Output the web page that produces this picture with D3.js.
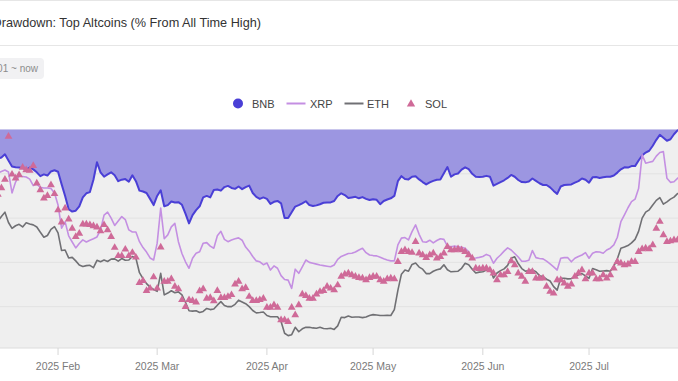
<!DOCTYPE html>
<html>
<head>
<meta charset="utf-8">
<script src="https://cdn.jsdelivr.net/npm/d3@7"></script>
<style>
  body { margin: 0; background: #fff; }
  svg { display: block; font-family: "Liberation Sans", Arial, sans-serif; }
</style>
</head>
<body>
<div id="chart"></div>
<script>
// daily values, % from all time high, starting 2025-01-14
const startDate = new Date(Date.UTC(2025, 0, 14));
const seriesNames = ["BNB", "XRP", "ETH", "SOL"];
const tickMonths = ["2025-02-01", "2025-03-01", "2025-04-01", "2025-05-01", "2025-06-01", "2025-07-01"];

const bnb = [
  -10.5, -9.8, -9.5, -8.4, -10.5, -12.5, -12.8, -12.9, -13.0, -13.7,
  -12.9, -13.5, -14.5, -15.8, -15.2, -15.6, -14.2, -13.8, -14.3, -18.5,
  -22.5, -27.0, -27.8, -27.5, -26.0, -23.0, -21.6, -21.2, -17.0, -11.1,
  -14.5, -16.0, -15.2, -14.5, -15.5, -17.5, -17.0, -16.8, -17.7, -15.5,
  -17.5, -20.7, -21.0, -21.5, -23.5, -25.6, -22.5, -20.6, -26.0, -25.6,
  -24.4, -24.7, -24.6, -25.5, -28.5, -31.8, -29.0, -27.3, -26.0, -23.0,
  -22.5, -23.0, -20.5, -20.3, -20.7, -19.5, -19.1, -19.8, -20.1, -19.3,
  -20.2, -19.5, -19.0, -21.5, -22.8, -23.5, -23.0, -23.5, -25.2, -24.5,
  -24.2, -25.0, -30.0, -30.0, -28.0, -26.1, -25.6, -25.0, -24.3, -25.6,
  -25.9, -25.7, -25.3, -24.8, -24.7, -24.7, -24.2, -22.5, -21.6, -22.2,
  -23.2, -23.0, -22.8, -23.3, -22.9, -23.5, -23.9, -23.6, -23.8, -25.3,
  -24.2, -23.7, -23.3, -22.5, -17.5, -15.8, -16.8, -16.9, -16.0, -15.8,
  -16.9, -17.8, -18.6, -17.9, -17.4, -17.0, -16.9, -14.8, -12.7, -16.0,
  -15.2, -14.9, -13.6, -12.8, -13.4, -15.0, -16.0, -16.1, -16.0, -15.7,
  -16.0, -19.0, -18.4, -17.8, -17.2, -16.4, -15.4, -16.0, -17.1, -17.8,
  -17.9, -17.6, -16.6, -17.4, -18.2, -18.8, -18.8, -19.6, -20.8, -21.8,
  -19.3, -18.8, -18.7, -18.6, -18.0, -17.5, -16.6, -17.0, -18.0, -16.2,
  -16.1, -16.4, -16.2, -16.0, -16.0, -15.6, -14.6, -13.5, -12.8, -12.9,
  -12.4, -12.4, -10.5, -8.8, -7.8, -7.2, -5.5, -3.5, -1.8, -2.8,
  -3.8, -3.3, -1.6, -0.3, 0
];

const xrp = [
  -15.5, -14.7, -14.2, -13.7, -14.4, -21.5, -17.8, -15.7, -15.9, -16.1,
  -16.8, -19.0, -18.5, -19.6, -19.8, -19.8, -20.0, -21.5, -25.6, -33.4,
  -31.3, -36.0, -38.1, -40.1, -38.6, -37.4, -38.1, -37.5, -37.0, -36.4,
  -34.0, -29.0, -28.0, -30.0, -32.5, -31.0, -29.5, -30.5, -34.0, -34.7,
  -34.7, -38.0, -40.0, -41.5, -43.5, -44.2, -38.5, -26.6, -37.0, -35.7,
  -33.0, -31.8, -38.0, -42.0, -44.8, -47.0, -43.6, -41.9, -41.4, -38.5,
  -38.3, -39.5, -40.2, -36.0, -34.5, -37.2, -38.0, -37.4, -37.0, -36.7,
  -37.5, -39.8, -41.2, -43.0, -44.5, -44.8, -45.8, -45.2, -47.6, -46.2,
  -47.0, -49.5, -50.8, -51.0, -53.8, -47.3, -48.7, -46.5, -44.2, -45.0,
  -45.3, -45.6, -45.9, -46.1, -46.3, -46.5, -45.9, -44.0, -43.0, -42.5,
  -42.0, -41.9, -41.5, -40.8, -40.2, -41.7, -42.5, -42.7, -42.8, -43.3,
  -43.8, -44.2, -44.5, -44.5, -39.1, -36.8, -36.6, -37.4, -34.6, -32.3,
  -35.5, -38.0, -38.2, -37.5, -38.4, -37.6, -37.0, -37.2, -39.5, -39.7,
  -39.5, -39.7, -39.9, -40.2, -41.4, -43.6, -43.5, -43.3, -43.0, -42.3,
  -42.8, -45.3, -43.6, -42.5, -41.2, -40.1, -40.8, -42.0, -43.2, -44.6,
  -44.6, -44.3, -41.0, -43.4, -43.7, -43.8, -44.6, -45.5, -46.5, -47.6,
  -43.6, -43.4, -43.4, -44.8, -43.6, -43.0, -42.5, -41.7, -43.6, -41.9,
  -41.4, -41.5, -41.9, -40.8, -40.2, -39.1, -36.5, -31.2, -28.9, -26.5,
  -24.4, -23.6, -20.0, -8.6, -11.4, -11.1, -10.8, -9.0, -7.8, -7.5,
  -16.5, -17.9, -17.7, -16.5, -15.8
];

const eth = [
  -30.5, -31.0, -29.5, -28.0, -31.5, -33.5, -32.6, -32.1, -33.0, -31.6,
  -32.0, -32.3, -33.0, -34.8, -36.5, -35.9, -33.8, -32.9, -35.0, -41.0,
  -40.8, -43.5, -43.3, -44.5, -45.9, -46.4, -46.1, -46.0, -46.8, -44.3,
  -44.8, -44.2, -44.7, -43.9, -43.8, -44.6, -43.7, -44.3, -44.2, -43.0,
  -43.6, -48.5, -50.5, -52.2, -53.4, -54.2, -54.8, -48.7, -56.0, -55.4,
  -54.6, -55.3, -55.0, -56.0, -58.5, -61.4, -61.5, -61.4, -62.0, -61.6,
  -60.6, -61.0, -60.8, -59.5, -58.3, -59.6, -60.0, -60.0, -59.2, -57.8,
  -58.4, -59.0, -60.0, -61.3, -62.1, -62.0, -61.8, -63.0, -63.4, -63.4,
  -63.4, -65.0, -69.0, -69.8, -69.5, -67.0, -68.5, -67.5, -67.0, -67.0,
  -67.2, -67.3, -67.0, -67.4, -67.5, -67.3, -67.7, -66.5, -63.6, -63.7,
  -63.2, -63.6, -63.5, -63.5, -63.7, -63.5, -63.0, -62.7, -62.8, -63.0,
  -63.0, -62.9, -63.0, -61.0, -54.5, -49.0, -47.6, -48.0, -45.7, -45.2,
  -46.6, -47.3, -48.8, -48.8, -48.0, -47.5, -47.2, -45.8, -47.5, -48.2,
  -48.1, -48.0, -47.0, -45.3, -45.8, -47.3, -48.6, -48.3, -48.2, -47.6,
  -47.0, -50.3, -48.6, -47.8, -47.2, -46.0, -43.6, -43.1, -45.4, -47.1,
  -48.0, -47.8, -47.6, -48.2, -49.5, -49.8, -50.7, -51.3, -53.2, -54.4,
  -50.4, -50.4, -50.6, -50.5, -50.0, -49.2, -48.8, -49.6, -50.4, -47.1,
  -47.5, -48.0, -47.9, -47.8, -48.0, -46.3, -43.8, -40.2, -39.8, -39.3,
  -38.4, -37.2, -34.5, -30.0, -28.0, -27.2, -25.6, -24.0, -23.1, -25.3,
  -24.5, -23.6, -22.9, -21.7, -21.0
];

const sol = [
  -21.0, -22.0, -19.8, -16.9, -2.4, -15.2, -16.5, -15.4, -12.9, -13.7,
  -13.9, -12.3, -18.2, -20.5, -23.3, -22.4, -18.8, -21.8, -27.3, -31.4,
  -26.7, -30.4, -33.5, -36.3, -35.2, -32.1, -32.1, -32.3, -32.7, -33.1,
  -34.4, -32.3, -34.0, -36.3, -40.0, -42.8, -42.8, -40.6, -42.8, -41.7,
  -43.3, -51.9, -51.2, -54.6, -53.8, -50.0, -53.8, -39.9, -51.5, -51.5,
  -50.6, -53.2, -54.0, -57.7, -60.0, -57.7, -58.0, -58.5, -54.7, -54.0,
  -57.2, -57.0, -58.1, -54.6, -57.0, -57.0, -56.6, -56.0, -52.4, -51.5,
  -54.0, -53.6, -56.6, -58.0, -58.0, -57.7, -57.2, -60.3, -60.3, -59.4,
  -60.3, -64.5, -64.5, -65.1, -60.3, -62.8, -59.4, -55.8, -56.3, -57.2,
  -57.2, -55.8, -54.9, -54.6, -53.2, -53.8, -54.4, -52.7, -49.8, -49.0,
  -48.7, -49.3, -49.8, -50.2, -50.4, -51.0, -50.2, -49.8, -49.8, -51.0,
  -51.5, -50.6, -50.4, -50.6, -44.8, -41.4, -40.8, -41.4, -41.7, -38.0,
  -41.9, -42.5, -43.4, -42.5, -41.9, -43.6, -43.1, -41.9, -39.7, -40.8,
  -40.8, -40.5, -40.8, -41.4, -42.5, -43.6, -47.0, -47.2, -47.0, -47.0,
  -47.6, -48.7, -51.0, -49.3, -49.3, -48.2, -44.5, -45.9, -48.7, -49.8,
  -51.5, -48.2, -48.2, -50.4, -50.4, -50.4, -53.2, -54.9, -55.5, -51.0,
  -51.0, -52.1, -53.2, -52.4, -49.8, -48.7, -47.6, -50.6, -48.7, -48.7,
  -50.6, -50.6, -49.3, -50.4, -49.3, -47.0, -44.8, -45.3, -45.9, -45.6,
  -44.8, -44.8, -41.4, -40.5, -40.2, -40.5, -39.1, -33.5, -31.2, -35.7,
  -38.0, -37.8, -37.4, -37.4, -37.0
];

const colors = { BNB: "#4a3fd6", XRP: "#c48fe2", ETH: "#707074", SOL: "#cf6a98" };

const width = 678;
const height = 381;

const svg = d3.select("#chart").append("svg").attr("width", width).attr("height", height);

const x = d3
  .scaleUtc()
  .domain([new Date(Date.UTC(2025, 0, 1)), new Date(Date.UTC(2025, 6, 27))])
  .range([-51.7, -51.7 + 3.54 * 207]);

const y = d3.scaleLinear().domain([-74, 0]).range([348, 129.5]);

const toPoints = (arr) => arr.map((v, i) => ({ date: d3.utcDay.offset(startDate, i), value: v }));
const data = {
  BNB: toPoints(bnb),
  XRP: toPoints(xrp),
  ETH: toPoints(eth),
  SOL: toPoints(sol),
};

// header
svg.append("line").attr("x1", 0).attr("x2", width).attr("y1", 0.5).attr("y2", 0.5).attr("stroke", "#e6e6e6");
svg
  .append("text")
  .attr("x", 261)
  .attr("y", 27)
  .attr("text-anchor", "end")
  .attr("font-size", 12.7)
  .attr("fill", "#333")
  .text("Drawdown: Top Altcoins (% From All Time High)");
svg.append("line").attr("x1", 0).attr("x2", width).attr("y1", 45.5).attr("y2", 45.5).attr("stroke", "#e6e6e6");

svg.append("rect").attr("x", -50).attr("y", 58).attr("width", 94).attr("height", 21).attr("rx", 4).attr("fill", "#f1f1f3");
svg
  .append("text")
  .attr("x", 38)
  .attr("y", 72)
  .attr("text-anchor", "end")
  .attr("font-size", 10)
  .attr("fill", "#8c8c8c")
  .text("2025-01-01 ~ now");

// legend
const legend = svg.append("g").attr("font-size", 11).attr("fill", "#444");
const legendX = { BNB: 238, XRP: 296, ETH: 354, SOL: 411 };
const textX = { BNB: 252, XRP: 310, ETH: 367, SOL: 425 };
legend.append("circle").attr("cx", legendX.BNB).attr("cy", 103.5).attr("r", 5).attr("fill", colors.BNB);
["XRP", "ETH"].forEach((k) => {
  legend
    .append("line")
    .attr("x1", legendX[k] - 9.5)
    .attr("x2", legendX[k] + 9.5)
    .attr("y1", 103.5)
    .attr("y2", 103.5)
    .attr("stroke", colors[k])
    .attr("stroke-width", 2);
});
legend
  .append("path")
  .attr("d", d3.symbol(d3.symbolTriangle, 30)())
  .attr("transform", `translate(${legendX.SOL},104)`)
  .attr("fill", colors.SOL);
seriesNames.forEach((k) => {
  legend.append("text").attr("x", textX[k]).attr("y", 107.5).text(k);
});

// plot background and grid
svg.append("rect").attr("x", -60).attr("y", y(0)).attr("width", width + 120).attr("height", y(-74) - y(0)).attr("fill", "#efefef");

svg
  .selectAll(".grid")
  .data([-15, -30, -45, -60])
  .join("line")
  .attr("class", "grid")
  .attr("x1", -60)
  .attr("x2", width + 60)
  .attr("y1", (d) => y(d))
  .attr("y2", (d) => y(d))
  .attr("stroke", "#e2e2e2");

// BNB filled area
svg
  .append("path")
  .datum(data.BNB)
  .attr("fill", "#9c96e1")
  .attr("d", d3.area().x((d) => x(d.date)).y0(y(0)).y1((d) => y(d.value)));

["BNB", "XRP", "ETH"].forEach((k) => {
  svg
    .append("path")
    .datum(data[k])
    .attr("fill", "none")
    .attr("stroke", colors[k])
    .attr("stroke-width", k === "BNB" ? 2 : 1.6)
    .attr("stroke-linejoin", "round")
    .attr("d", d3.line().x((d) => x(d.date)).y((d) => y(d.value)));
});

svg
  .selectAll(".sol")
  .data(data.SOL)
  .join("path")
  .attr("class", "sol")
  .attr("d", d3.symbol(d3.symbolTriangle, 26)())
  .attr("transform", (d) => `translate(${x(d.date)},${y(d.value)})`)
  .attr("fill", colors.SOL);

// x axis
const ticks = tickMonths.map((s) => new Date(s + "T00:00:00Z"));
const xAxis = svg.append("g").attr("transform", `translate(0,${y(-74)})`);
xAxis.append("line").attr("x1", 0).attr("x2", width).attr("stroke", "#dcdcdc");
xAxis
  .selectAll(".tick")
  .data(ticks)
  .join("line")
  .attr("class", "tick")
  .attr("x1", (d) => x(d))
  .attr("x2", (d) => x(d))
  .attr("y1", 0)
  .attr("y2", 7)
  .attr("stroke", "#d6d6d6");
xAxis
  .selectAll(".tick-label")
  .data(ticks)
  .join("text")
  .attr("class", "tick-label")
  .attr("x", (d) => x(d))
  .attr("y", 22)
  .attr("text-anchor", "middle")
  .attr("font-size", 10.5)
  .attr("fill", "#7a7a7a")
  .text(d3.utcFormat("%Y %b"));
</script>
</body>
</html>
